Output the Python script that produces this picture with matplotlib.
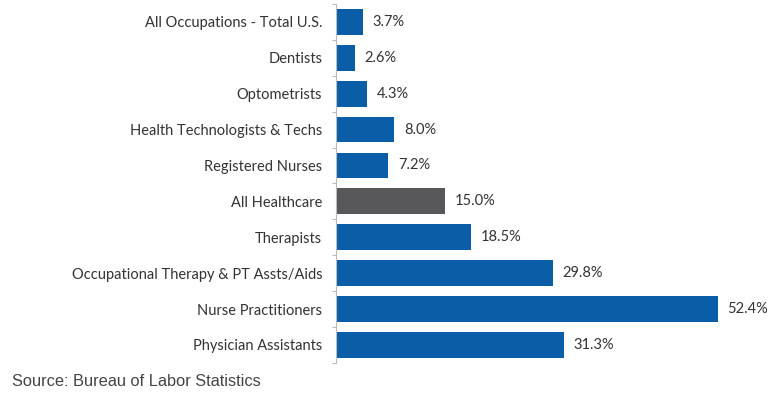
import matplotlib
matplotlib.use("Agg")
import matplotlib.pyplot as plt
import numpy as np

categories = [
    "All Occupations - Total U.S.",
    "Dentists",
    "Optometrists",
    "Health Technologists & Techs",
    "Registered Nurses",
    "All Healthcare",
    "Therapists",
    "Occupational Therapy & PT Assts/Aids",
    "Nurse Practitioners",
    "Physician Assistants",
]
growth_pct = [3.7, 2.6, 4.3, 8.0, 7.2, 15.0, 18.5, 29.8, 52.4, 31.3]
highlight = "All Healthcare"

BLUE = "#0A5EA8"
GRAY = "#58585A"
TEXT = "#333333"

fig = plt.figure(figsize=(7.7, 3.94), dpi=100)
ax = fig.add_axes([0.4364, 0.079, 0.52, 0.911])

y = np.arange(len(categories))
colors = [GRAY if c == highlight else BLUE for c in categories]
ax.barh(y, growth_pct, height=0.72, color=colors, edgecolor="none", zorder=2)
ax.set_ylim(len(categories) - 0.5, -0.5)
ax.set_xlim(0, 55)

label_font = dict(family=["Lato", "DejaVu Sans"], size=10.5, color=TEXT)
for yi, v in zip(y, growth_pct):
    ax.annotate(f"{v:.1f}%", xy=(v, yi), xytext=(7, 0), textcoords="offset points",
                va="center", ha="left", clip_on=False, **label_font)

ax.set_yticks(y)
ax.set_yticklabels(categories, **label_font)
ax.tick_params(axis="y", which="major", length=0, pad=10)
ax.set_yticks(np.arange(-0.5, len(categories), 1.0), minor=True)
ax.tick_params(axis="y", which="minor", length=3, width=0.8, color="#BBBBBB", direction="out")
ax.set_xticks([])

for side in ("top", "right", "bottom"):
    ax.spines[side].set_visible(False)
ax.spines["left"].set_color("#BBBBBB")
ax.spines["left"].set_linewidth(0.8)

fig.text(12 / 770, 1 - 381 / 394, "Source: Bureau of Labor Statistics",
         family=["Liberation Sans", "DejaVu Sans"], size=11.8, color="#444444", va="center", ha="left")

fig.savefig("out.png", dpi=100, facecolor="white")
